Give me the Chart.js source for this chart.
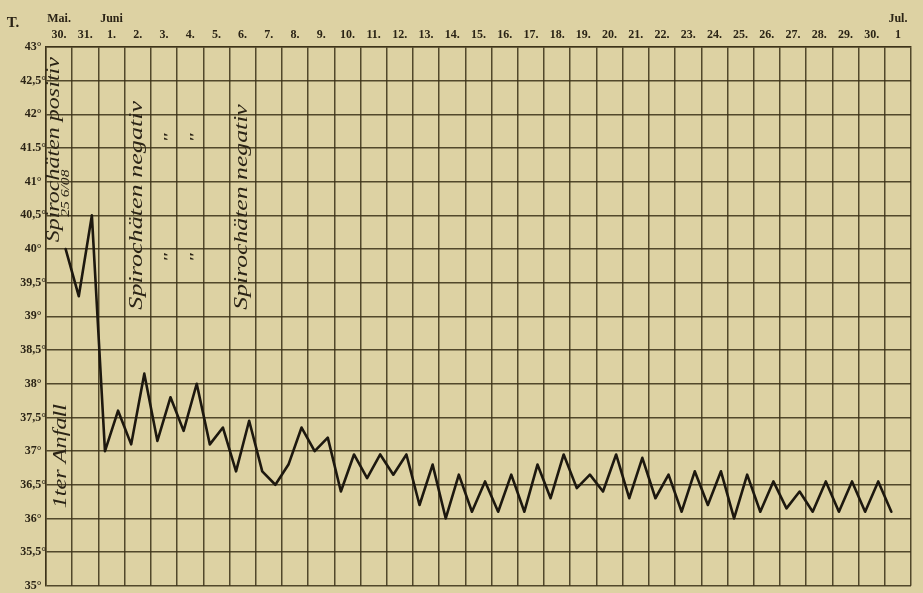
<!DOCTYPE html>
<html>
<head>
<meta charset="utf-8">
<script src="https://cdn.jsdelivr.net/npm/chart.js@4.4.0/dist/chart.umd.min.js"></script>
<style>
  html, body { margin: 0; padding: 0; background: #ddd2a3; }
  canvas { display: block; }
</style>
</head>
<body>
<canvas id="feverChart" width="923" height="593"></canvas>
<script>
// one column per day, 30. Mai .. 1. Juli
const dayLabels = ['30.', '31.', '1.', '2.', '3.', '4.', '5.', '6.', '7.', '8.', '9.', '10.', '11.',
  '12.', '13.', '14.', '15.', '16.', '17.', '18.', '19.', '20.', '21.', '22.', '23.', '24.',
  '25.', '26.', '27.', '28.', '29.', '30.', '1'];
const monthLabels = ['Mai.', '', 'Juni', '', '', '', '', '', '', '', '', '', '', '', '', '', '',
  '', '', '', '', '', '', '', '', '', '', '', '', '', '', '', 'Jul.'];

// morning / evening temperature per day (null = not measured)
const morningTemps = [null, 39.3, 37.0, 37.1, 37.15, 37.3, 37.1, 36.7, 36.7, 36.8, 37.0, 36.4,
  36.6, 36.65, 36.2, 36.0, 36.1, 36.1, 36.1, 36.3, 36.45, 36.4, 36.3, 36.3, 36.1, 36.2, 36.0,
  36.1, 36.15, 36.1, 36.1, 36.1, 36.1];
const eveningTemps = [40.0, 40.5, 37.6, 38.15, 37.8, 38.0, 37.35, 37.45, 36.5, 37.35, 37.2, 36.95,
  36.95, 36.95, 36.8, 36.65, 36.55, 36.65, 36.8, 36.95, 36.65, 36.95, 36.9, 36.65, 36.7, 36.7,
  36.65, 36.55, 36.4, 36.55, 36.55, 36.55, null];

const tempTicks = [43, 42.5, 42, 41.5, 41, 40.5, 40, 39.5, 39, 38.5, 38, 37.5, 37, 36.5, 36, 35.5, 35];
const tempTickLabels = ['43°', '42,5°', '42°', '41.5°', '41°', '40,5°', '40°', '39,5°', '39°',
  '38,5°', '38°', '37,5°', '37°', '36,5°', '36°', '35,5°', '35°'];

// handwritten notes on the sheet: column position, temperature span
const notes = [
  { text: 'Spirochäten positiv', day: 0.3, from: 40.1, to: 42.85, size: 19 },
  { text: '25 6/08', day: 0.75, from: 40.48, to: 41.18, size: 12 },
  { text: 'Spirochäten negativ', day: 3.47, from: 39.1, to: 42.2, size: 19 },
  { text: 'Spirochäten negativ', day: 7.48, from: 39.1, to: 42.15, size: 19 },
  { text: '1ter Anfall', day: 0.6, from: 36.15, to: 37.7, size: 18 },
  { text: '"', day: 4.72, from: 41.58, to: 41.72, size: 15 },
  { text: '"', day: 5.72, from: 41.58, to: 41.72, size: 15 },
  { text: '"', day: 4.72, from: 39.8, to: 39.94, size: 15 },
  { text: '"', day: 5.72, from: 39.8, to: 39.94, size: 15 },
];

const points = [];
dayLabels.forEach((_, i) => {
  if (morningTemps[i] !== null) points.push({ x: i + 0.25, y: morningTemps[i] });
  if (eveningTemps[i] !== null) points.push({ x: i + 0.75, y: eveningTemps[i] });
});

const ink = '#2b2416';
const gridInk = 'rgba(58, 48, 22, 0.85)';

const paperPlugin = {
  id: 'paper',
  beforeDraw(chart) {
    const { ctx } = chart;
    ctx.save();
    ctx.fillStyle = '#ddd2a3';
    ctx.fillRect(0, 0, chart.width, chart.height);
    ctx.restore();
  },
  beforeDatasetsDraw(chart) {
    const { ctx, scales } = chart;
    const x = scales.x;
    const y = scales.y;
    ctx.save();
    ctx.fillStyle = ink;
    ctx.textAlign = 'center';
    ctx.textBaseline = 'middle';
    notes.forEach((n) => {
      const px = x.getPixelForValue(n.day);
      const top = y.getPixelForValue(n.to);
      const bottom = y.getPixelForValue(n.from);
      ctx.save();
      ctx.font = `italic ${n.size}px "Liberation Serif", serif`;
      ctx.translate(px, (top + bottom) / 2);
      ctx.rotate(-Math.PI / 2);
      const w = ctx.measureText(n.text).width;
      ctx.scale((bottom - top) / w, 1);
      ctx.fillText(n.text, 0, 0);
      ctx.restore();
    });
    ctx.font = 'bold 15px "Liberation Serif", serif';
    ctx.fillText('T.', 13, 23);
    ctx.restore();
  },
};

const labelFont = { family: '"Liberation Serif", serif', size: 12, weight: 'bold' };

new Chart(document.getElementById('feverChart'), {
  type: 'line',
  data: {
    datasets: [{
      data: points,
      borderColor: '#1d180f',
      borderWidth: 2.6,
      borderJoinStyle: 'round',
      borderCapStyle: 'round',
      pointRadius: 0,
      tension: 0,
      fill: false,
    }],
  },
  options: {
    responsive: false,
    animation: false,
    devicePixelRatio: 1,
    layout: { padding: { left: 0, right: 12, top: 0, bottom: 5 } },
    plugins: { legend: { display: false }, tooltip: { enabled: false } },
    scales: {
      x: {
        type: 'linear',
        position: 'top',
        weight: 0,
        min: 0,
        max: dayLabels.length,
        ticks: { display: false, stepSize: 1, maxTicksLimit: 60 },
        grid: { color: gridInk, lineWidth: 1.5, drawTicks: false },
        border: { color: gridInk, width: 1.5 },
        afterFit: (s) => { s.height = 0; },
      },
      days: {
        type: 'category',
        position: 'top',
        weight: 1,
        labels: dayLabels,
        offset: true,
        grid: { display: false, drawTicks: false },
        border: { display: false },
        ticks: { autoSkip: false, maxRotation: 0, padding: 5, color: ink, font: labelFont },
        afterFit: (s) => { s.height = 21; },
      },
      months: {
        type: 'category',
        position: 'top',
        weight: 2,
        labels: monthLabels,
        offset: true,
        grid: { display: false, drawTicks: false },
        border: { display: false },
        ticks: { autoSkip: false, maxRotation: 0, padding: 0, color: ink, font: labelFont },
        afterFit: (s) => { s.height = 26; },
      },
      y: {
        type: 'linear',
        min: 35,
        max: 43,
        afterBuildTicks: (s) => { s.ticks = tempTicks.map((v) => ({ value: v })); },
        ticks: {
          color: ink,
          font: { family: '"Liberation Serif", serif', size: 12, weight: 'bold' },
          crossAlign: 'center',
          padding: 0,
          callback: (v) => tempTickLabels[tempTicks.indexOf(v)],
        },
        grid: { color: gridInk, lineWidth: 1.5, drawTicks: false },
        border: { color: gridInk, width: 1.5 },
        afterFit: (s) => { s.width = 46; },
      },
    },
  },
  plugins: [paperPlugin],
});
</script>
</body>
</html>
